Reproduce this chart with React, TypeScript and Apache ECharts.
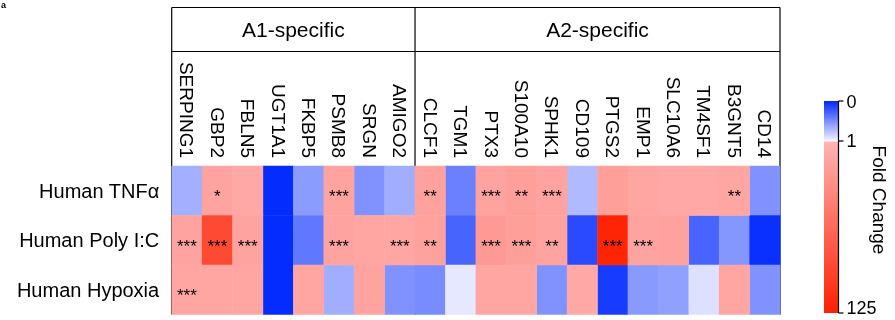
import React, { useEffect, useRef } from "react";
import * as echarts from "echarts";

const genes = ["SERPING1", "GBP2", "FBLN5", "UGT1A1", "FKBP5", "PSMB8", "SRGN", "AMIGO2",
  "CLCF1", "TGM1", "PTX3", "S100A10", "SPHK1", "CD109", "PTGS2", "EMP1", "SLC10A6", "TM4SF1", "B3GNT5", "CD14"];
const conditions = ["Human TNFα", "Human Poly I:C", "Human Hypoxia"];
const groups = ["A1-specific", "A2-specific"];
const groupSizes = [8, 12];

// fold change per condition (same order as genes)
const foldTNF = [0.68, 15, 11, 0.02, 0.58, 15, 0.53, 0.67, 17, 0.44, 15, 19, 15, 0.73, 19, 13, 11, 11, 13, 0.53];
const foldPolyIC = [15, 90, 15, 0.02, 0.4, 15, 13, 13, 17, 0.3, 24, 19, 15, 0.17, 122, 15, 17, 0.3, 0.55, 0.04];
const foldHypoxia = [13, 13, 13, 0.02, 13, 0.67, 15, 0.53, 0.5, 0.96, 13, 13, 0.53, 11, 0.1, 0.57, 0.6, 0.92, 13, 0.53];

const starsTNF = ["", "*", "", "", "", "***", "", "", "**", "", "***", "**", "***", "", "", "", "", "", "**", ""];
const starsPolyIC = ["***", "***", "***", "", "", "***", "", "***", "**", "", "***", "***", "**", "", "***", "***", "", "", "", ""];
const starsHypoxia = ["***", "", "", "", "", "", "", "", "", "", "", "", "", "", "", "", "", "", "", ""];

const colorbarTicks = [0, 1, 125];
const colorbarTitle = "Fold Change";

const BLUE = ["#0028ff", "#f0f0ff"];
const RED = ["#ffb4b4", "#ff2000"];
const FONT = "Liberation Sans, Arial, sans-serif";

export default function App() {
  const ref = useRef<HTMLDivElement>(null);
  useEffect(() => {
    if (!ref.current) return;
    const chart = echarts.init(ref.current, null, { renderer: "svg" });
    const folds = [foldTNF, foldPolyIC, foldHypoxia];
    const stars = [starsTNF, starsPolyIC, starsHypoxia];
    const below: any[] = [];
    const above: any[] = [];
    folds.forEach((row, r) => row.forEach((v, c) => {
      (v < 1 ? below : above).push([c, r, v]);
    }));

    const L = 171.7, R = 780, T = 166, H = 148.5;
    const boxTop = 7.5, boxMid = 51.5;
    const colW = (R - L) / genes.length;
    const graphics: any[] = [];
    const ln = (x1: number, y1: number, x2: number, y2: number) => ({
      type: "line", shape: { x1, y1, x2, y2 }, style: { stroke: "#000", lineWidth: 1.2 }, silent: true,
    });
    graphics.push(ln(L, boxTop, R, boxTop));
    graphics.push(ln(L, boxMid, R, boxMid));
    let acc = 0;
    const xs = [L];
    groupSizes.forEach((n) => { acc += n; xs.push(L + acc * colW); });
    xs.forEach((x) => graphics.push(ln(x, boxTop, x, T + H)));
    groups.forEach((g, i) => {
      graphics.push({
        type: "text", x: (xs[i] + xs[i + 1]) / 2, y: (boxTop + boxMid) / 2,
        style: { text: g, fontSize: 21, fontFamily: FONT, fill: "#000", align: "center", verticalAlign: "middle" },
      });
    });
    // colorbar
    const cbX = 824, cbW = 14, cbTop = 101, cbOne = 141, cbBot = 313;
    graphics.push({
      type: "rect", shape: { x: cbX, y: cbTop, width: cbW, height: cbOne - cbTop - 0.5 },
      style: { fill: new echarts.graphic.LinearGradient(0, 0, 0, 1, [{ offset: 0, color: BLUE[0] }, { offset: 1, color: BLUE[1] }]) },
    });
    graphics.push({
      type: "rect", shape: { x: cbX, y: cbOne + 0.5, width: cbW, height: cbBot - cbOne - 0.5 },
      style: { fill: new echarts.graphic.LinearGradient(0, 0, 0, 1, [{ offset: 0, color: RED[0] }, { offset: 1, color: RED[1] }]) },
    });
    const axX = cbX + cbW + 0.5;
    graphics.push(ln(axX, cbTop, axX, cbBot));
    const tickY = [cbTop, cbOne, cbBot];
    const labelY = [cbTop + 0.5, cbOne - 0.5, cbBot - 5];
    colorbarTicks.forEach((t, i) => {
      graphics.push(ln(axX, tickY[i], axX + 5, tickY[i]));
      graphics.push({
        type: "text", x: axX + 8, y: labelY[i],
        style: { text: String(t), fontSize: 18, fontFamily: FONT, fill: "#000", align: "left", verticalAlign: "middle" },
      });
    });
    graphics.push({
      type: "text", x: 879, y: 200, rotation: -Math.PI / 2,
      style: { text: colorbarTitle, fontSize: 19, fontFamily: FONT, fill: "#000", align: "center", verticalAlign: "middle" },
    });
    graphics.push({
      type: "text", x: 1, y: 0,
      style: { text: "a", fontSize: 9, fontWeight: "bold", fontFamily: FONT, fill: "#000", align: "left", verticalAlign: "top" },
    });

    const label = {
      show: true,
      formatter: (p: any) => stars[p.value[1]][p.value[0]],
      fontSize: 17, fontFamily: FONT, color: "#000", offset: [0, 6],
    };

    chart.setOption({
      animation: false,
      textStyle: { fontFamily: FONT },
      grid: { left: L, top: T, width: R - L, height: H },
      xAxis: {
        type: "category", data: genes, position: "top",
        axisLine: { show: false }, axisTick: { show: false }, splitArea: { show: false },
        axisLabel: { rotate: 90, fontSize: 19, color: "#000", margin: 8, fontFamily: FONT, interval: 0 },
      },
      yAxis: {
        type: "category", data: conditions, inverse: true,
        axisLine: { show: false }, axisTick: { show: false },
        axisLabel: { fontSize: 20, color: "#000", margin: 12.5, fontFamily: FONT },
      },
      visualMap: [
        { type: "continuous", show: false, seriesIndex: 0, dimension: 2, min: 0, max: 1, inRange: { color: BLUE } },
        { type: "continuous", show: false, seriesIndex: 1, dimension: 2, min: 1, max: 125, inRange: { color: RED } },
      ],
      series: [
        { type: "heatmap", data: below, label, emphasis: { disabled: true } },
        { type: "heatmap", data: above, label, emphasis: { disabled: true } },
      ],
      graphic: graphics,
    });
    return () => chart.dispose();
  }, []);
  return <div ref={ref} style={{ position: "fixed", left: 0, top: 0, width: 895, height: 320 }} />;
}
